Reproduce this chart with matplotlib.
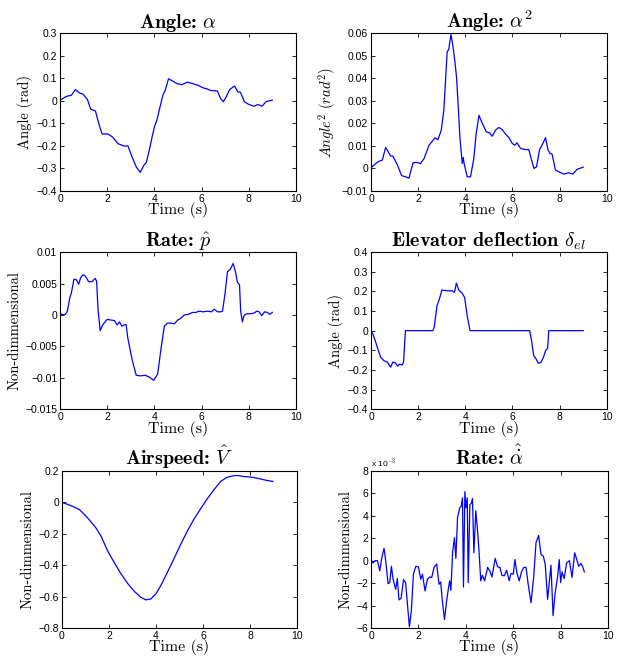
import numpy as np
import matplotlib
matplotlib.use("Agg")
import matplotlib.pyplot as plt
from matplotlib.ticker import FuncFormatter

plt.rcParams['mathtext.fontset'] = 'cm'
plt.rcParams['axes.unicode_minus'] = True

# --- data ---
t_alpha = [0, 0.27, 0.48, 0.65, 0.83, 0.97, 1.16, 1.3, 1.5, 1.64, 1.78, 2.03, 2.22, 2.46, 2.7,
           2.88, 3.05, 3.24, 3.4, 3.56, 3.66, 3.8, 3.91, 4.0, 4.12, 4.22, 4.36, 4.46, 4.6, 4.79,
           4.97, 5.17, 5.4, 5.64, 5.85, 6.06, 6.24, 6.38, 6.67, 6.81, 6.92, 7.05, 7.19, 7.4,
           7.54, 7.65, 7.82, 7.99, 8.22, 8.39, 8.56, 8.74, 9.0]
alpha = [0.003, 0.02, 0.025, 0.05, 0.035, 0.03, 0.006, -0.037, -0.045, -0.1, -0.147, -0.147,
         -0.16, -0.19, -0.2, -0.2, -0.248, -0.295, -0.317, -0.285, -0.273, -0.211, -0.157,
         -0.116, -0.08, -0.035, 0.025, 0.047, 0.098, 0.087, 0.076, 0.072, 0.083, 0.076, 0.069,
         0.058, 0.053, 0.046, 0.044, 0.01, -0.004, 0.018, 0.05, 0.066, 0.04, 0.038, -0.004,
         -0.015, -0.024, -0.016, -0.024, -0.003, 0.003]

t_alpha2 = [0, 0.2, 0.34, 0.48, 0.62, 0.73, 0.83, 0.93, 1.12, 1.3, 1.47, 1.61, 1.78, 1.93, 2.1,
            2.25, 2.46, 2.6, 2.71, 2.84, 2.98, 3.09, 3.23, 3.3, 3.39, 3.47, 3.56, 3.63, 3.7,
            3.77, 3.87, 3.91, 3.95, 4.08, 4.22, 4.36, 4.46, 4.58, 4.69, 4.79, 4.89, 5.03, 5.14,
            5.28, 5.42, 5.56, 5.71, 5.85, 5.99, 6.1, 6.19, 6.34, 6.53, 6.69, 6.81, 6.91, 7.02,
            7.15, 7.29, 7.4, 7.51, 7.6, 7.68, 7.82, 7.97, 8.18, 8.39, 8.56, 8.74, 9.0]
alpha2 = [0.0003, 0.0022, 0.0032, 0.0037, 0.0093, 0.0074, 0.0055, 0.0055, 0.0015, -0.0032,
          -0.0037, -0.0043, 0.0025, 0.0027, 0.0022, 0.0044, 0.0103, 0.0121, 0.0136, 0.0128,
          0.017, 0.026, 0.0517, 0.053, 0.0595, 0.0547, 0.0473, 0.0402, 0.0273, 0.014, 0.0022,
          0.0049, 0.0022, -0.0037, -0.0037, 0.0044, 0.0155, 0.0236, 0.0207, 0.0185, 0.0162,
          0.0158, 0.0143, 0.017, 0.0182, 0.0173, 0.0152, 0.0137, 0.0111, 0.0103, 0.0114, 0.0089,
          0.0084, 0.0084, 0.0037, 0.0, 0.0007, 0.0084, 0.0111, 0.0137, 0.0081, 0.0066, 0.0064,
          -0.0007, -0.0015, -0.0025, -0.0019, -0.0025, -0.0004, 0.0006]

t_p = [0, 0.13, 0.23, 0.31, 0.41, 0.48, 0.59, 0.69, 0.79, 0.87, 0.97, 1.07, 1.21, 1.35, 1.49,
       1.55, 1.61, 1.7, 1.82, 2.0, 2.14, 2.31, 2.42, 2.52, 2.62, 2.7, 2.8, 2.87, 2.99, 3.08,
       3.23, 3.41, 3.61, 3.79, 3.97, 4.14, 4.28, 4.42, 4.56, 4.7, 4.85, 4.99, 5.13, 5.27, 5.44,
       5.62, 5.76, 5.9, 6.07, 6.25, 6.42, 6.54, 6.68, 6.82, 6.89, 7.0, 7.1, 7.21, 7.34, 7.45,
       7.52, 7.61, 7.66, 7.73, 7.8, 7.92, 8.08, 8.23, 8.34, 8.44, 8.55, 8.68, 8.79, 8.89, 9.0]
p_hat = [0.0002, 0, 0.0001, 0.0006, 0.0027, 0.0035, 0.0057, 0.0056, 0.0049, 0.0059, 0.0064,
         0.0062, 0.0053, 0.0053, 0.0058, 0.0054, 0.0009, -0.0025, -0.0015, -0.0007, -0.0008,
         -0.0009, -0.0016, -0.0011, -0.0018, -0.0016, -0.0015, -0.0036, -0.0059, -0.0075,
         -0.0096, -0.0097, -0.0096, -0.0099, -0.0104, -0.0094, -0.0054, -0.0018, -0.0013,
         -0.0013, -0.0014, -0.0008, -0.0005, 0, 0.0001, 0.0004, 0.0004, 0.0006, 0.0005, 0.0006,
         0.0005, 0.0009, 0.0005, 0.0005, 0.0006, 0.0035, 0.0069, 0.0072, 0.0082, 0.0067, 0.0052,
         0.0048, 0.0006, -0.0011, -0.0001, 0.0002, 0.0002, 0.0003, 0.0006, 0.0005, -0.0001,
         0.0005, 0.0004, 0.0001, 0.0004]

t_el = [0, 0.08, 0.2, 0.31, 0.41, 0.55, 0.69, 0.83, 0.93, 1.04, 1.13, 1.21, 1.32, 1.38, 1.46,
        2.62, 2.68, 2.8, 2.9, 3.01, 3.23, 3.44, 3.54, 3.62, 3.72, 3.86, 3.97, 4.08, 4.2, 6.73,
        6.82, 6.9, 7.0, 7.1, 7.21, 7.31, 7.41, 7.49, 7.54, 9.0]
delta_el = [0.003, -0.017, -0.059, -0.1, -0.136, -0.153, -0.16, -0.186, -0.16, -0.164, -0.181,
            -0.17, -0.175, -0.161, 0, 0, 0.017, 0.127, 0.161, 0.207, 0.203, 0.203, 0.195, 0.242,
            0.207, 0.192, 0.169, 0.076, 0, 0, -0.059, -0.127, -0.144, -0.166, -0.161, -0.136,
            -0.1, -0.09, 0, 0]

t_v = [0, 0.38, 0.74, 1.09, 1.44, 1.66, 1.94, 2.22, 2.5, 2.79, 3.07, 3.35, 3.56, 3.78, 3.99,
       4.2, 4.48, 4.77, 5.05, 5.33, 5.62, 5.9, 6.18, 6.46, 6.75, 7.0, 7.24, 7.48, 7.73, 7.94,
       8.15, 8.44, 8.72, 8.97]
v_hat = [0, -0.021, -0.046, -0.099, -0.162, -0.215, -0.309, -0.383, -0.453, -0.516, -0.566,
         -0.604, -0.621, -0.615, -0.583, -0.531, -0.446, -0.356, -0.267, -0.183, -0.105, -0.04,
         0.023, 0.08, 0.133, 0.158, 0.168, 0.171, 0.164, 0.162, 0.158, 0.149, 0.139, 0.133]

# alpha dot, in units of 1e-3
t_ad = [0, 0.08, 0.17, 0.27, 0.37, 0.45, 0.55, 0.62, 0.72, 0.79, 0.86, 0.93, 1.04, 1.11, 1.18,
        1.27, 1.37, 1.46, 1.55, 1.62, 1.7, 1.79, 1.89, 2.0, 2.1, 2.17, 2.28, 2.38, 2.48, 2.56,
        2.66, 2.77, 2.87, 2.94, 3.01, 3.1, 3.18, 3.27, 3.32, 3.37, 3.44, 3.52, 3.58, 3.65, 3.75,
        3.8, 3.86, 3.9, 3.96, 4.01, 4.06, 4.1, 4.17, 4.23, 4.28, 4.34, 4.42, 4.49, 4.56, 4.63,
        4.7, 4.79, 4.92, 5.01, 5.1, 5.24, 5.34, 5.44, 5.52, 5.62, 5.72, 5.83, 5.9, 6.0, 6.07,
        6.15, 6.25, 6.35, 6.44, 6.54, 6.63, 6.75, 6.86, 6.96, 7.07, 7.17, 7.27, 7.35, 7.45,
        7.52, 7.59, 7.68, 7.76, 7.87, 7.94, 8.0, 8.06, 8.15, 8.25, 8.37, 8.48, 8.59, 8.68, 8.76,
        8.86, 8.93, 9.0]
alpha_dot = [0.1, -0.2, 0.0, 0.0, -0.9, 0.2, 1.1, 0.0, -2.05, -1.95, -0.5, -1.65, -2.55, -1.6,
             -3.5, -3.35, -1.7, -1.95, -4.2, -5.9, -4.5, -1.2, -0.5, -0.55, -1.65, -1.2, -2.7,
             -1.65, -1.45, -1.5, -0.6, -0.3, -2.1, -1.9, -3.6, -5.25, -3.75, -2.4, -1.8, -2.65,
             0.7, 2.05, 0.2, 3.85, 4.75, 4.8, 5.6, -2.35, 6.15, 4.7, 5.6, -1.95, 5.0, 5.1, 5.55,
             0.7, 4.45, 2.8, 0.7, -1.8, -1.3, -1.8, -0.6, -0.9, -1.45, 0.2, -0.55, -0.6, -1.3,
             -1.35, -0.85, -1.8, -1.15, -1.2, 0.1, -1.05, -1.8, -1.0, -0.6, -0.6, -2.1, -3.75,
             -1.5, 1.6, 2.25, 0.55, 0.4, -0.35, -3.45, -1.95, -0.4, -4.9, -3.0, -1.45, 0.1, -1.95,
             -1.0, -1.6, -0.2, 0.0, -1.5, 0.7, 0.1, -0.5, -0.25, -0.55, -1.0]

xticks = [0, 2, 4, 6, 8, 10]


def tick_fmt(v, pos):
    s = '%g' % round(v, 6)
    if s == '-0':
        s = '0'
    return s.replace('-', '\u2212')


def style_axis(ax, title, ylabel, ylim, yticks):
    ax.set_xlim(0, 10)
    ax.set_xticks(xticks)
    ax.set_ylim(*ylim)
    ax.set_yticks(yticks)
    ax.yaxis.set_major_formatter(FuncFormatter(tick_fmt))
    ax.xaxis.set_major_formatter(FuncFormatter(tick_fmt))
    ax.tick_params(direction='in', length=3, width=0.6, top=True, right=True,
                   labelsize=7.5, pad=2)
    for lbl in ax.get_xticklabels() + ax.get_yticklabels():
        lbl.set_family('Liberation Sans')
    for sp in ax.spines.values():
        sp.set_linewidth(0.8)
    ax.set_title(title, family='cmb10', fontsize=14.5, pad=4)
    ax.set_xlabel('Time (s)', family='cmr10', fontsize=11.5, labelpad=-1)
    if ylabel.startswith('$'):
        ax.set_ylabel(ylabel, fontsize=10.5, labelpad=3)
    else:
        ax.set_ylabel(ylabel, family='cmr10', fontsize=10.5, labelpad=3)


fig = plt.figure(figsize=(6.39, 6.6), dpi=100)

W = 0.369
H = 0.238
ax1 = fig.add_axes([0.094, 0.7106, W, 0.239])
ax2 = fig.add_axes([0.5806, 0.7106, W, 0.239])
ax3 = fig.add_axes([0.094, 0.380, W, H])
ax4 = fig.add_axes([0.5806, 0.380, W, H])
ax5 = fig.add_axes([0.097, 0.0485, 0.368, H])
ax6 = fig.add_axes([0.5806, 0.0485, 0.371, H])

lc = '#0000ff'
lw = 0.9

ax1.plot(t_alpha, alpha, color=lc, lw=lw)
style_axis(ax1, r'Angle: $\alpha$', 'Angle (rad)', (-0.4, 0.3),
           [-0.4, -0.3, -0.2, -0.1, 0, 0.1, 0.2, 0.3])

ax2.plot(t_alpha2, alpha2, color=lc, lw=lw)
style_axis(ax2, r'Angle: $\alpha^2$', r'$Angle^2\ (rad^2)$', (-0.01, 0.06),
           [-0.01, 0, 0.01, 0.02, 0.03, 0.04, 0.05, 0.06])

ax3.plot(t_p, p_hat, color=lc, lw=lw)
style_axis(ax3, r'Rate: $\hat{p}$', 'Non-dimmensional', (-0.015, 0.01),
           [-0.015, -0.01, -0.005, 0, 0.005, 0.01])

ax4.plot(t_el, delta_el, color=lc, lw=lw)
style_axis(ax4, r'Elevator deflection $\delta_{el}$', 'Angle (rad)', (-0.4, 0.4),
           [-0.4, -0.3, -0.2, -0.1, 0, 0.1, 0.2, 0.3, 0.4])

ax5.plot(t_v, v_hat, color=lc, lw=lw)
style_axis(ax5, r'Airspeed: $\hat{V}$', 'Non-dimmensional', (-0.8, 0.2),
           [-0.8, -0.6, -0.4, -0.2, 0, 0.2])

ax6.plot(t_ad, alpha_dot, color=lc, lw=lw)
style_axis(ax6, r'Rate: $\hat{\dot{\alpha}}$', 'Non-dimmensional', (-6, 8),
           [-6, -4, -2, 0, 2, 4, 6, 8])
ax6.text(0.0, 1.015, r'x 10$^{-3}$', transform=ax6.transAxes, fontsize=6,
         family='Liberation Sans', ha='left', va='bottom')

fig.savefig('out.png', dpi=100)
